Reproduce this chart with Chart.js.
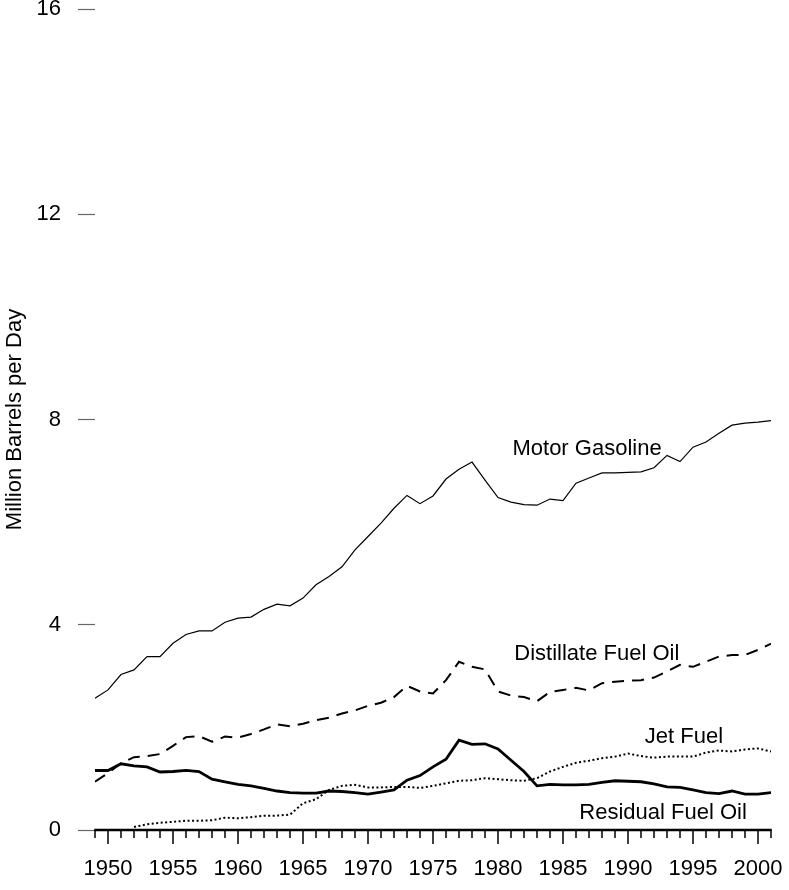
<!DOCTYPE html>
<html lang="en">

<head>
    <meta charset="UTF-8">
    <title>Petroleum Products Supplied</title>
    <script src="https://cdn.jsdelivr.net/npm/chart.js"></script>
    <style>
        body {
            margin: 0;
            background: #fff;
        }

        #caixaGrafico {
            width: 789px;
            height: 890px;
        }
    </style>
</head>

<body>
    <div id="caixaGrafico">
        <canvas id="graficoProdutos"></canvas>
    </div>

    <script>
        // Dados (milhoes de barris por dia)
        const anos = [1949, 1950, 1951, 1952, 1953, 1954, 1955, 1956, 1957, 1958,
            1959, 1960, 1961, 1962, 1963, 1964, 1965, 1966, 1967, 1968,
            1969, 1970, 1971, 1972, 1973, 1974, 1975, 1976, 1977, 1978,
            1979, 1980, 1981, 1982, 1983, 1984, 1985, 1986, 1987, 1988,
            1989, 1990, 1991, 1992, 1993, 1994, 1995, 1996, 1997, 1998,
            1999, 2000, 2001];

        const gasolina = [2.57, 2.73, 3.03, 3.12, 3.38, 3.38, 3.64, 3.81, 3.88, 3.88,
            4.05, 4.13, 4.15, 4.30, 4.40, 4.37, 4.52, 4.78, 4.94, 5.13,
            5.46, 5.72, 5.98, 6.27, 6.52, 6.36, 6.51, 6.84, 7.03, 7.17,
            6.82, 6.48, 6.39, 6.34, 6.33, 6.45, 6.42, 6.76, 6.86, 6.96,
            6.96, 6.97, 6.98, 7.06, 7.30, 7.18, 7.46, 7.56, 7.73, 7.89,
            7.93, 7.95, 7.98];

        const destilado = [0.94, 1.11, 1.30, 1.42, 1.44, 1.48, 1.64, 1.81, 1.83, 1.72,
            1.82, 1.80, 1.87, 1.96, 2.06, 2.02, 2.07, 2.14, 2.19, 2.27,
            2.33, 2.42, 2.48, 2.59, 2.81, 2.70, 2.66, 2.92, 3.28, 3.18,
            3.13, 2.70, 2.62, 2.59, 2.51, 2.69, 2.73, 2.77, 2.72, 2.86,
            2.89, 2.91, 2.92, 2.97, 3.09, 3.22, 3.18, 3.28, 3.38, 3.41,
            3.41, 3.51, 3.63];

        const querosene = [null, null, null, 0.06, 0.11, 0.14, 0.16, 0.18, 0.18, 0.19,
            0.24, 0.23, 0.25, 0.28, 0.28, 0.30, 0.52, 0.60, 0.78, 0.86,
            0.88, 0.83, 0.83, 0.84, 0.84, 0.82, 0.86, 0.91, 0.96, 0.97,
            1.01, 0.99, 0.97, 0.96, 1.01, 1.14, 1.23, 1.31, 1.35, 1.40,
            1.43, 1.49, 1.44, 1.41, 1.43, 1.43, 1.43, 1.51, 1.55, 1.53,
            1.57, 1.59, 1.53];

        const residual = [1.16, 1.16, 1.29, 1.25, 1.23, 1.13, 1.14, 1.16, 1.14, 0.99,
            0.94, 0.89, 0.86, 0.81, 0.76, 0.73, 0.72, 0.72, 0.76, 0.75,
            0.73, 0.70, 0.74, 0.78, 0.97, 1.06, 1.23, 1.38, 1.75, 1.67,
            1.68, 1.58, 1.36, 1.14, 0.86, 0.89, 0.88, 0.88, 0.89, 0.93,
            0.96, 0.95, 0.94, 0.90, 0.84, 0.83, 0.78, 0.73, 0.71, 0.76,
            0.70, 0.70, 0.73];

        const ticksY = [0, 4, 8, 12, 16];

        const nomes = ['Motor Gasoline', 'Distillate Fuel Oil', 'Jet Fuel', 'Residual Fuel Oil'];

        // posicao dos rotulos dentro do grafico (ano, valor)
        const posRotulos = [
            [1986.85, 7.43],
            [1987.6, 3.43],
            [1994.3, 1.81],
            [1992.7, 0.33]
        ];

        const fonte = '"Liberation Sans", Arial, Helvetica, sans-serif';

        function pontos(valores) {
            return anos.map((ano, i) => ({ x: ano, y: valores[i] }));
        }

        // eixo X desenhado a mao: linha grossa + tracinhos anuais
        const eixoX = {
            id: 'eixoX',
            afterDraw(chart) {
                const ctx = chart.ctx;
                const sx = chart.scales.x;
                const sy = chart.scales.y;
                const y0 = sy.getPixelForValue(0);

                ctx.save();
                ctx.strokeStyle = '#000';
                ctx.lineWidth = 1.5;
                anos.forEach(ano => {
                    const px = sx.getPixelForValue(ano);
                    const tam = ano % 5 === 0 ? 14 : 8;
                    ctx.beginPath();
                    ctx.moveTo(px, y0);
                    ctx.lineTo(px, y0 + tam);
                    ctx.stroke();
                });

                ctx.lineWidth = 2.5;
                ctx.beginPath();
                ctx.moveTo(sx.getPixelForValue(anos[0]) - 0.75, y0);
                ctx.lineTo(sx.getPixelForValue(anos[anos.length - 1]) + 0.75, y0);
                ctx.stroke();

                // rotulos das series
                ctx.fillStyle = '#000';
                ctx.font = '22px ' + fonte;
                ctx.textAlign = 'center';
                ctx.textBaseline = 'middle';
                nomes.forEach((nome, i) => {
                    ctx.fillText(nome,
                        sx.getPixelForValue(posRotulos[i][0]),
                        sy.getPixelForValue(posRotulos[i][1]));
                });
                ctx.restore();
            }
        };

        const dataLinhas = {
            datasets: [
                {
                    label: nomes[0],
                    data: pontos(gasolina),
                    borderColor: '#000',
                    borderWidth: 1.2
                },
                {
                    label: nomes[1],
                    data: pontos(destilado),
                    borderColor: '#000',
                    borderWidth: 2,
                    borderDash: [12, 8]
                },
                {
                    label: nomes[2],
                    data: pontos(querosene),
                    borderColor: '#000',
                    borderWidth: 2,
                    borderDash: [2, 2.5]
                },
                {
                    label: nomes[3],
                    data: pontos(residual),
                    borderColor: '#000',
                    borderWidth: 2.8
                }
            ]
        };

        const configLinhas = {
            type: 'line',
            data: dataLinhas,
            plugins: [eixoX],
            options: {
                responsive: true,
                maintainAspectRatio: false,
                animation: false,
                elements: {
                    point: { radius: 0 },
                    line: { tension: 0, fill: false }
                },
                layout: {
                    autoPadding: false,
                    padding: { top: 9, right: 18, left: 0, bottom: 0 }
                },
                plugins: {
                    legend: { display: false },
                    tooltip: { enabled: false }
                },
                scales: {
                    x: {
                        type: 'linear',
                        min: anos[0],
                        max: anos[anos.length - 1],
                        afterFit(scale) {
                            scale.height = 60;
                            scale.paddingLeft = 0;
                            scale.paddingRight = 0;
                        },
                        grid: { display: false, drawTicks: false },
                        border: { display: false },
                        ticks: {
                            stepSize: 5,
                            includeBounds: false,
                            autoSkip: false,
                            maxRotation: 0,
                            padding: 26,
                            color: '#000',
                            font: { size: 22, family: fonte },
                            callback: v => (v % 5 === 0 ? String(v) : '')
                        }
                    },
                    y: {
                        min: ticksY[0],
                        max: ticksY[ticksY.length - 1],
                        afterFit(scale) {
                            scale.width = 95;
                            scale.paddingTop = 0;
                            scale.paddingBottom = 0;
                        },
                        afterBuildTicks(scale) {
                            scale.ticks = ticksY.map(v => ({ value: v }));
                        },
                        grid: {
                            drawOnChartArea: false,
                            drawTicks: true,
                            tickLength: 17,
                            tickColor: '#666',
                            tickWidth: 1.2
                        },
                        border: { display: false },
                        ticks: {
                            padding: 17,
                            color: '#000',
                            font: { size: 22, family: fonte }
                        },
                        title: {
                            display: true,
                            text: 'Million Barrels per Day',
                            color: '#000',
                            padding: 2,
                            font: { size: 22, family: fonte }
                        }
                    }
                }
            }
        };

        const graficoProdutos = new Chart(
            document.getElementById('graficoProdutos'),
            configLinhas
        );
    </script>
</body>

</html>
